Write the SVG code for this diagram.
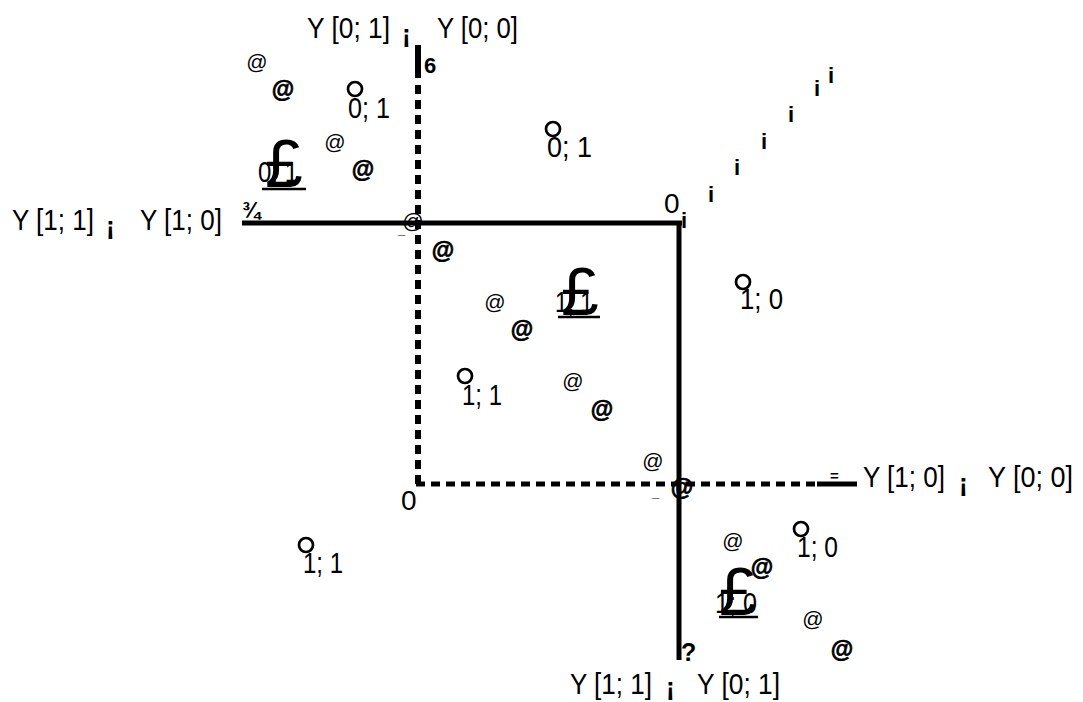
<svg xmlns="http://www.w3.org/2000/svg" width="1083" height="702" viewBox="0 0 1083 702">
<style>
.t{font-family:"Liberation Sans",Arial,sans-serif;font-size:30px;fill:#000}
.n{font-family:"Liberation Sans",Arial,sans-serif;font-size:28px;fill:#000}
.ex{font-family:"Liberation Sans",Arial,sans-serif;font-size:26px;font-weight:bold;fill:#000}
.at{font-family:"Liberation Sans",Arial,sans-serif;font-size:21px;fill:#000;text-anchor:middle}
.atb{font-family:"Liberation Sans",Arial,sans-serif;font-size:23px;font-weight:bold;fill:#000;stroke:#000;stroke-width:0.7;text-anchor:middle}
.pd{font-family:"Liberation Sans",Arial,sans-serif;font-size:68px;fill:#000;text-anchor:middle}
.sm{font-family:"Liberation Sans",Arial,sans-serif;font-weight:bold;fill:#000}
.ii{font-family:"Liberation Sans",Arial,sans-serif;font-size:22px;font-weight:bold;fill:#000;text-anchor:middle}
.pt{fill:none;stroke:#000;stroke-width:2.7}
.ul{stroke:#000;stroke-width:2.5}
</style>
<g id="connectors" stroke="#000" fill="none">
  <line x1="242" y1="223" x2="682" y2="223" stroke-width="5"/>
  <line x1="679" y1="221" x2="679" y2="660" stroke-width="5"/>
  <line x1="418" y1="45" x2="418" y2="78" stroke-width="6"/>
  <line x1="418" y1="85" x2="418" y2="486" stroke-width="6" stroke-dasharray="9,6"/>
  <line x1="416" y1="484" x2="817" y2="484" stroke-width="5" stroke-dasharray="9,6"/>
  <line x1="817" y1="484" x2="857" y2="484" stroke-width="5"/>
</g>
<g id="axis-labels">
  <text class="t" x="307" y="38" textLength="83" lengthAdjust="spacingAndGlyphs">Y [0; 1]</text>
  <text class="ex" x="402" y="43">¡</text>
  <text class="t" x="437" y="38" textLength="81" lengthAdjust="spacingAndGlyphs">Y [0; 0]</text>
  <text class="t" x="12" y="230" textLength="82" lengthAdjust="spacingAndGlyphs">Y [1; 1]</text>
  <text class="ex" x="106" y="235">¡</text>
  <text class="t" x="140" y="230" textLength="82" lengthAdjust="spacingAndGlyphs">Y [1; 0]</text>
  <text class="t" x="863" y="487" textLength="82" lengthAdjust="spacingAndGlyphs">Y [1; 0]</text>
  <text class="ex" x="959" y="492">¡</text>
  <text class="t" x="988" y="487" textLength="85" lengthAdjust="spacingAndGlyphs">Y [0; 0]</text>
  <text class="t" x="570" y="694" textLength="82" lengthAdjust="spacingAndGlyphs">Y [1; 1]</text>
  <text class="ex" x="666" y="696">¡</text>
  <text class="t" x="697" y="694" textLength="83" lengthAdjust="spacingAndGlyphs">Y [0; 1]</text>
  <text class="n" x="401" y="510">0</text>
  <text class="n" x="664" y="213">0</text>
  <text class="sm" x="242" y="218" font-size="22">¾</text>
  <text class="sm" x="424" y="73" font-size="22">6</text>
  <text class="sm" x="681" y="661" font-size="25">?</text>
  <text class="sm" x="830" y="481" font-size="15">=</text>
  <text class="sm" x="398" y="234" font-size="13">_</text>
  <text class="sm" x="652" y="497" font-size="13">_</text>
</g>
<g id="diagonal">
  <text class="ii" x="684" y="228">i</text>
  <text class="ii" x="711" y="202">i</text>
  <text class="ii" x="737" y="175">i</text>
  <text class="ii" x="764" y="149">i</text>
  <text class="ii" x="791" y="122">i</text>
  <text class="ii" x="817" y="96">i</text>
  <text class="ii" x="831" y="83">i</text>
</g>
<g id="point-01a"><circle class="pt" cx="355" cy="89" r="7"/><text class="t" x="348" y="118" textLength="42" lengthAdjust="spacingAndGlyphs">0; 1</text></g>
<g id="point-01b"><circle class="pt" cx="553" cy="129" r="7"/><text class="t" x="547" y="157" textLength="45" lengthAdjust="spacingAndGlyphs">0; 1</text></g>
<g id="point-10a"><circle class="pt" cx="743" cy="282" r="7"/><text class="t" x="740" y="309" textLength="43" lengthAdjust="spacingAndGlyphs">1; 0</text></g>
<g id="point-11a"><circle class="pt" cx="465" cy="376" r="7"/><text class="t" x="462" y="405" textLength="40" lengthAdjust="spacingAndGlyphs">1; 1</text></g>
<g id="point-11b"><circle class="pt" cx="306" cy="545" r="7"/><text class="t" x="303" y="573" textLength="40" lengthAdjust="spacingAndGlyphs">1; 1</text></g>
<g id="point-10b"><circle class="pt" cx="801" cy="529" r="7"/><text class="t" x="797" y="557" textLength="41" lengthAdjust="spacingAndGlyphs">1; 0</text></g>
<g id="region-01">
  <text class="t" x="258" y="182" font-size="28" textLength="40" lengthAdjust="spacingAndGlyphs">0; 1</text>
  <text class="pd" x="284" y="187">£</text>
  <line class="ul" x1="262" y1="189" x2="306" y2="189"/>
</g>
<g id="region-11">
  <text class="t" x="555" y="312" font-size="28" textLength="38" lengthAdjust="spacingAndGlyphs">1; 1</text>
  <text class="pd" x="580" y="315">£</text>
  <line class="ul" x1="558" y1="317" x2="600" y2="317"/>
</g>
<g id="region-10">
  <text class="t" x="715" y="613" font-size="28" textLength="42" lengthAdjust="spacingAndGlyphs">1; 0</text>
  <text class="pd" x="738" y="615">£</text>
  <line class="ul" x1="719" y1="617" x2="758" y2="617"/>
</g>
<g id="at-marks">
  <text class="at" x="257" y="69">@</text><text class="atb" x="283" y="97">@</text>
  <text class="at" x="335" y="149">@</text><text class="atb" x="363" y="177">@</text>
  <text class="at" x="413" y="228">@</text><text class="atb" x="443" y="258">@</text>
  <text class="at" x="495" y="309">@</text><text class="atb" x="522" y="337">@</text>
  <text class="at" x="573" y="388">@</text><text class="atb" x="602" y="417">@</text>
  <text class="at" x="653" y="468">@</text><text class="atb" x="682" y="495">@</text>
  <text class="at" x="733" y="548">@</text><text class="atb" x="762" y="575">@</text>
  <text class="at" x="813" y="626">@</text><text class="atb" x="842" y="657">@</text>
</g>
</svg>
